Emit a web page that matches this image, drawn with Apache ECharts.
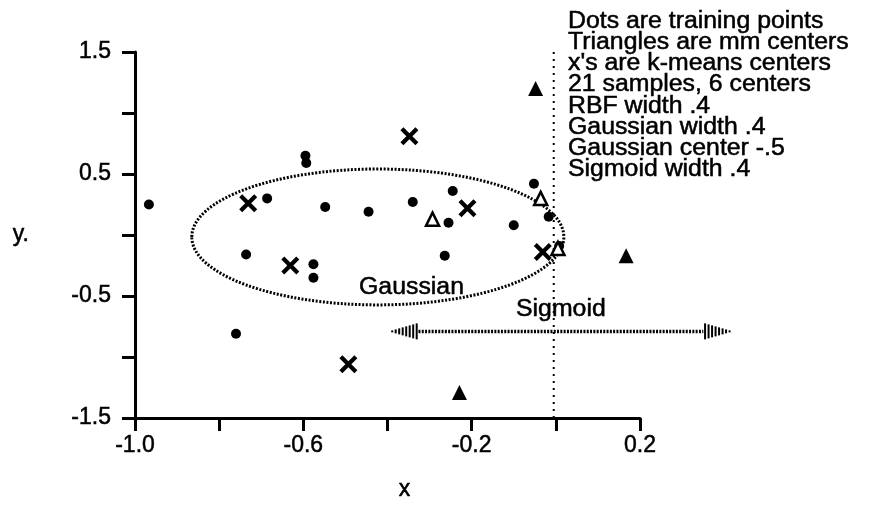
<!DOCTYPE html>
<html>
<head>
<meta charset="utf-8">
<script src="https://cdn.jsdelivr.net/npm/echarts@6/dist/echarts.min.js"></script>
<style>
	html, body { margin: 0; padding: 0; background: #fff; }
	#main { width: 876px; height: 523px; }
</style>
</head>
<body>
<div id="main"></div>
<script>
	// training points
	var dots = [
		[-0.967, 0.25], [-0.760, -0.81], [-0.736, -0.16], [-0.686, 0.30],
		[-0.595, 0.65], [-0.593, 0.59], [-0.576, -0.24], [-0.576, -0.35],
		[-0.548, 0.23], [-0.445, 0.19], [-0.340, 0.27], [-0.245, 0.36],
		[-0.255, 0.10], [-0.264, -0.17], [-0.100, 0.08], [-0.052, 0.42],
		[-0.017, 0.15], [0.008, -0.09]
	];
	// mm centers: filled / open triangles
	var mmFilled = [[-0.048, 1.20], [0.167, -0.17], [-0.229, -1.29]];
	var mmOpen = [[-0.293, 0.13], [-0.036, 0.30], [0.005, -0.11]];
	// k-means centers
	var kmeans = [
		[-0.731, 0.26], [-0.348, 0.81], [-0.210, 0.22],
		[-0.631, -0.25], [-0.031, -0.14], [-0.493, -1.06]
	];
	// gaussian ellipse: cx, cy, rx, ry
	var gaussEllipse = [[-0.423, -0.016, 0.442, 0.557]];
	// sigmoid arrow: x tip left, x tip right, y
	var sigmoidArrow = [[-0.393, 0.417, -0.79]];
	// dotted vertical line: x, y from, y to
	var vLine = [[-0.005, -1.5, 1.5]];
	var shapeLabels = [['Gaussian', -0.343, -0.43], ['Sigmoid', 0.012, -0.61]];

	var xTickLabels = ['-1.0', '-0.6', '-0.2', '0.2'];
	var yTickLabels = ['1.5', '0.5', '-0.5', '-1.5'];

	var notes = [
		'Dots are training points',
		'Triangles are mm centers',
		"x's are k-means centers",
		'21 samples, 6 centers',
		'RBF width .4',
		'Gaussian width .4',
		'Gaussian center -.5',
		'Sigmoid width .4'
	];

	var FONT = '"Liberation Sans", Arial, sans-serif';
	var myChart = echarts.init(document.getElementById('main'));

	var noteEls = notes.map(function(t, i) {
		return {
			type: 'text',
			x: 568,
			y: 10 + i * 21.2,
			scaleX: 1.08,
			style: {
				text: t, fill: '#000', font: '23px ' + FONT,
				stroke: '#000', lineWidth: 0.5
			}
		};
	});

	var option = {
		backgroundColor: '#fff',
		animation: false,
		grid: { left: 135, right: 236, top: 52, bottom: 105, containLabel: false, outerBoundsMode: 'none' },
		xAxis: {
			type: 'value', min: -1, max: 0.2, interval: 0.2,
			name: 'x', nameLocation: 'middle', nameGap: 60,
			nameTextStyle: {
				color: '#000', fontSize: 23, fontFamily: FONT, padding: [0, 0, 0, 34],
				textBorderColor: '#000', textBorderWidth: 0.5
			},
			axisLine: { onZero: false, lineStyle: { color: '#000', width: 3 } },
			axisTick: { length: 13, lineStyle: { color: '#000', width: 3 } },
			axisLabel: {
				margin: 16, color: '#000', fontSize: 23, fontFamily: FONT,
				textBorderColor: '#000', textBorderWidth: 0.5,
				formatter: function(v) {
					var s = v.toFixed(1);
					if (s === '-0.0') s = '0.0';
					return xTickLabels.indexOf(s) >= 0 ? s : '';
				}
			},
			splitLine: { show: false }
		},
		yAxis: {
			type: 'value', min: -1.5, max: 1.5, interval: 0.5,
			name: 'y.', nameLocation: 'middle', nameGap: 106, nameRotate: 0,
			nameTextStyle: {
				color: '#000', fontSize: 23, fontFamily: FONT,
				textBorderColor: '#000', textBorderWidth: 0.5
			},
			axisLine: { onZero: false, lineStyle: { color: '#000', width: 3 } },
			axisTick: { length: 13, lineStyle: { color: '#000', width: 3 } },
			axisLabel: {
				margin: 24, color: '#000', fontSize: 23, fontFamily: FONT,
				textBorderColor: '#000', textBorderWidth: 0.5,
				formatter: function(v) {
					var s = v.toFixed(1);
					return yTickLabels.indexOf(s) >= 0 ? s : '';
				}
			},
			splitLine: { show: false }
		},
		graphic: noteEls,
		series: [{
			type: 'custom',
			name: 'vline',
			clip: false,
			z: 1,
			encode: { x: 0, y: [1, 2] },
			renderItem: function(params, api) {
				var p1 = api.coord([api.value(0), api.value(1)]);
				var p2 = api.coord([api.value(0), api.value(2)]);
				return {
					type: 'line',
					shape: { x1: p1[0], y1: p1[1], x2: p2[0], y2: p2[1] },
					style: { stroke: '#000', lineWidth: 2, lineDash: [2, 5] }
				};
			},
			data: vLine
		}, {
			type: 'custom',
			name: 'gaussian',
			clip: false,
			z: 1,
			encode: { x: 0, y: 1 },
			renderItem: function(params, api) {
				var c = api.coord([api.value(0), api.value(1)]);
				var s = api.size([api.value(2), api.value(3)]);
				return {
					type: 'ellipse',
					shape: { cx: c[0], cy: c[1], rx: s[0], ry: s[1] },
					style: { fill: 'none', stroke: '#000', lineWidth: 3, lineDash: [2, 1.6] }
				};
			},
			data: gaussEllipse
		}, {
			type: 'custom',
			name: 'sigmoid',
			clip: false,
			z: 1,
			encode: { x: [0, 1], y: 2 },
			renderItem: function(params, api) {
				var y = api.value(2);
				var pl = api.coord([api.value(0), y]);
				var pr = api.coord([api.value(1), y]);
				var headLen = 28, n = 8;
				var children = [{
					type: 'line',
					shape: { x1: pl[0] + headLen, y1: pl[1], x2: pr[0] - headLen, y2: pr[1] },
					style: { stroke: '#000', lineWidth: 3.5, lineDash: [2, 1.3] }
				}];
				for (var i = 0; i < n; i++) {
					var off = (i + 0.5) * headLen / n;
					var h = 2 + i * 2;
					children.push({
						type: 'rect',
						shape: { x: pl[0] + off - 1, y: pl[1] - h / 2, width: 2, height: h },
						style: { fill: '#000' }
					});
					children.push({
						type: 'rect',
						shape: { x: pr[0] - off - 1, y: pr[1] - h / 2, width: 2, height: h },
						style: { fill: '#000' }
					});
				}
				return { type: 'group', children: children };
			},
			data: sigmoidArrow
		}, {
			type: 'custom',
			name: 'labels',
			clip: false,
			z: 2,
			encode: { x: 1, y: 2 },
			renderItem: function(params, api) {
				var p = api.coord([api.value(1), api.value(2)]);
				return {
					type: 'text',
					x: p[0], y: p[1],
					scaleX: 1.08,
					style: {
						text: shapeLabels[params.dataIndex][0],
						fill: '#000', font: '23px ' + FONT,
						stroke: '#000', lineWidth: 0.5,
						align: 'center', verticalAlign: 'middle'
					}
				};
			},
			data: shapeLabels
		}, {
			type: 'scatter',
			name: 'training points',
			symbol: 'circle',
			symbolSize: 10,
			itemStyle: { color: '#000', opacity: 1 },
			z: 3,
			data: dots
		}, {
			type: 'scatter',
			name: 'mm centers',
			symbol: 'triangle',
			symbolSize: 15,
			itemStyle: { color: '#000', opacity: 1 },
			z: 3,
			data: mmFilled
		}, {
			type: 'scatter',
			name: 'mm centers open',
			symbol: 'triangle',
			symbolSize: 13,
			itemStyle: { color: '#fff', borderColor: '#000', borderWidth: 2.5, opacity: 1 },
			z: 4,
			data: mmOpen
		}, {
			type: 'scatter',
			name: 'k-means centers',
			symbol: 'path://M0,2L2,0L6,4L10,0L12,2L8,6L12,10L10,12L6,8L2,12L0,10L4,6Z',
			symbolSize: 18,
			itemStyle: { color: '#000', opacity: 1 },
			z: 4,
			data: kmeans
		}]
	};

	myChart.setOption(option, true);
	window.onresize = function() {
		myChart.resize();
	};
</script>
</body>
</html>
